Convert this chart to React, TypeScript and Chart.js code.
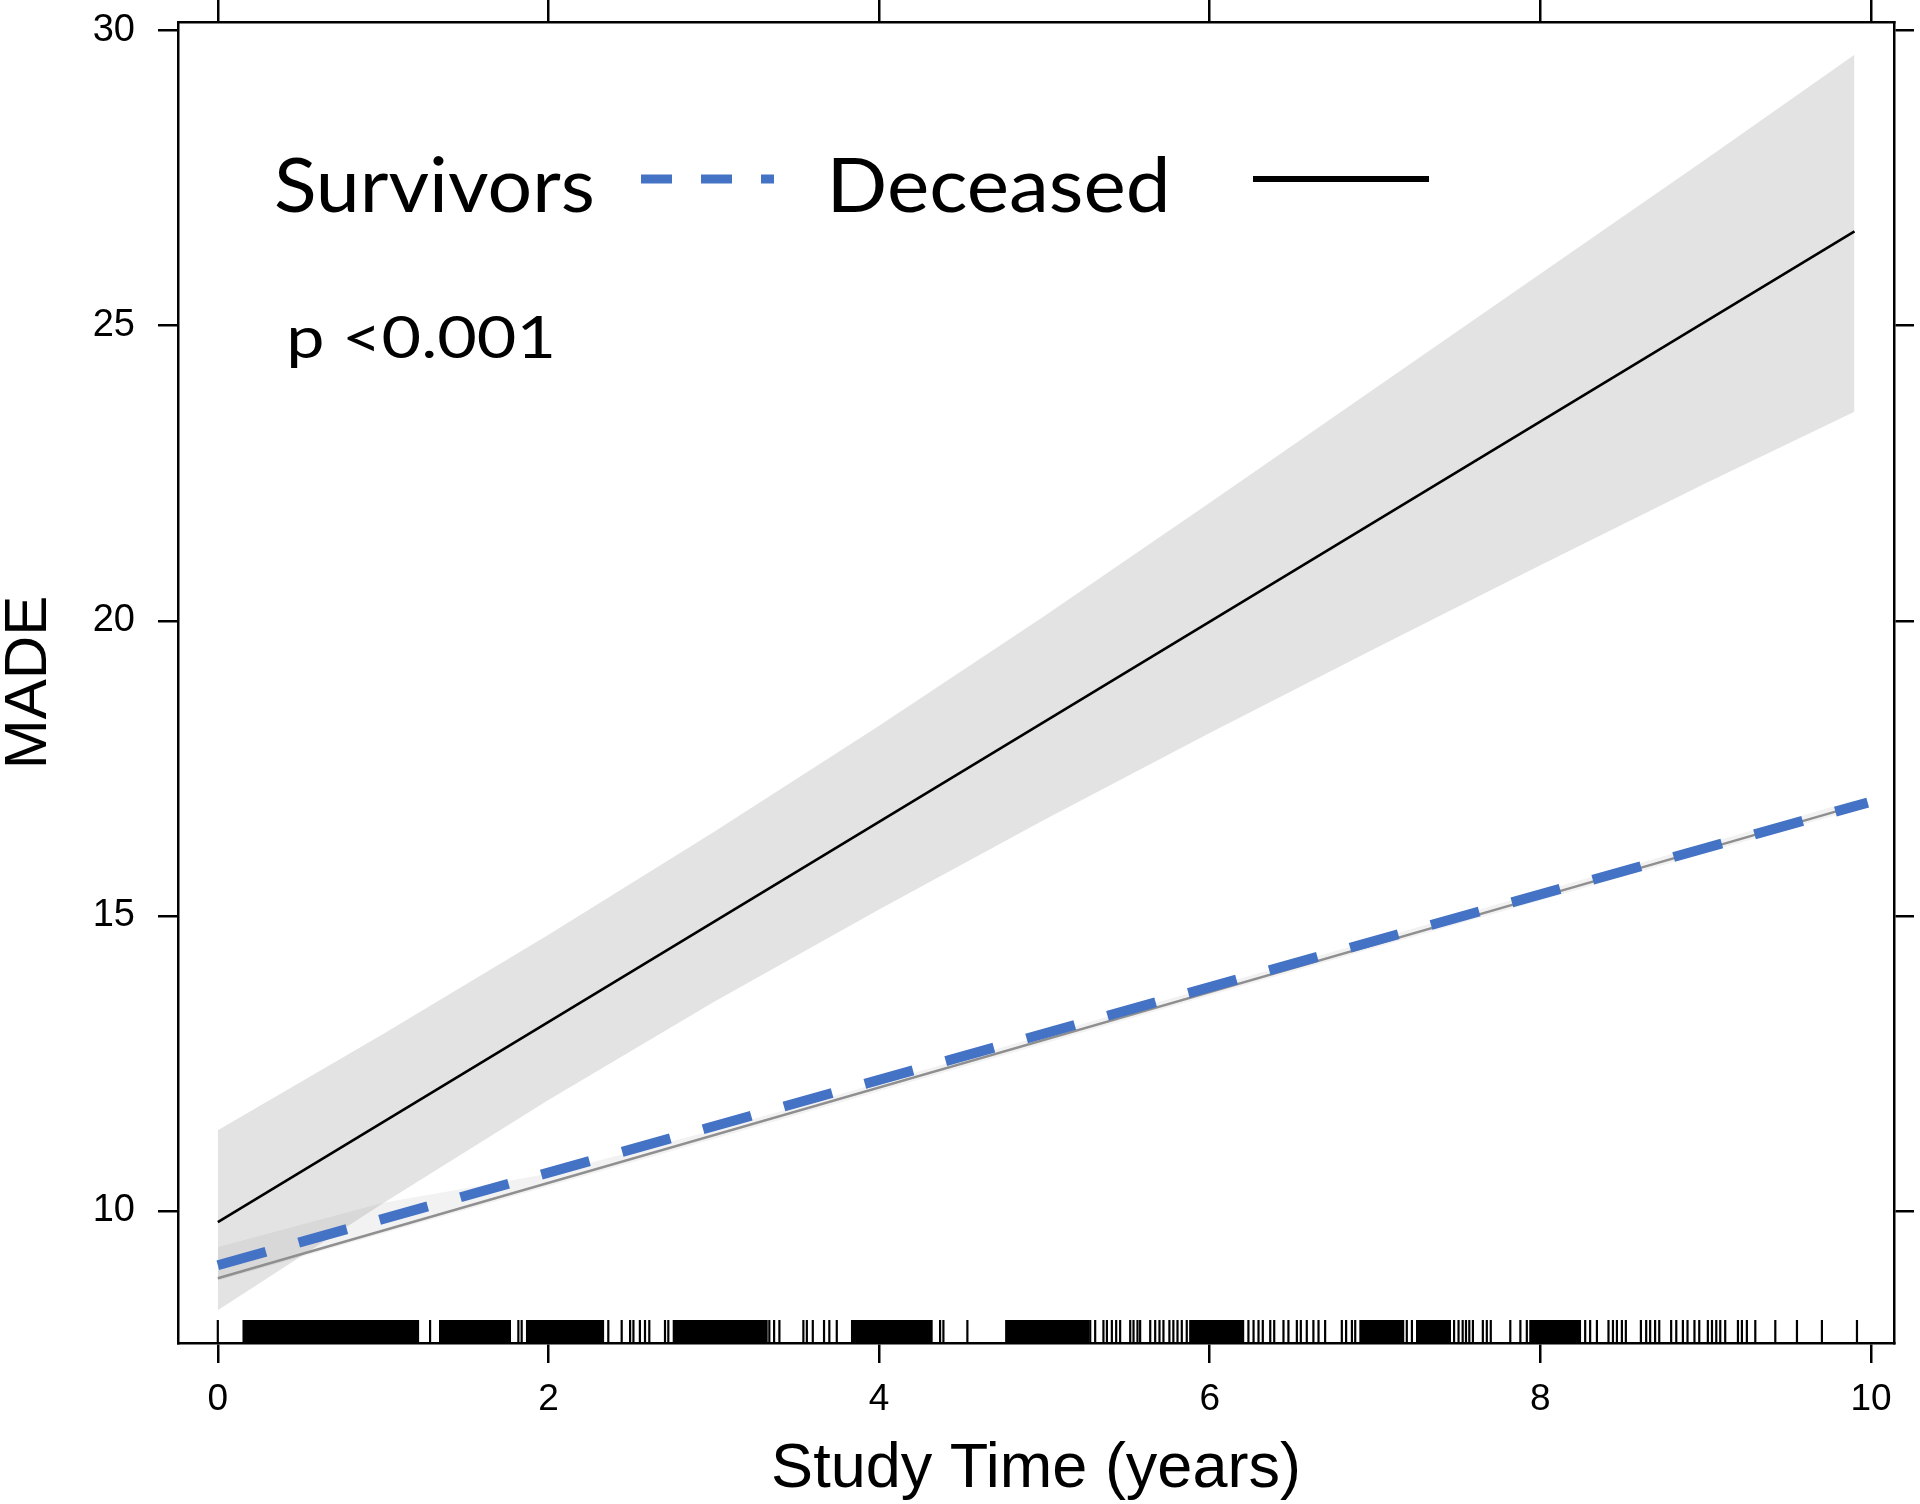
import React, { useEffect, useRef } from 'react';
import { Chart, registerables } from 'chart.js';

Chart.register(...registerables);

// ---- data ----
const xTicks = [0, 2, 4, 6, 8, 10];
const yTicks = [10, 15, 20, 25, 30];

const bandX = [0, 1, 2, 3, 4, 5, 6, 7, 8, 9, 9.9];
const deceasedUpper = [11.37, 13.0, 14.68, 16.42, 18.22, 20.08, 22.0, 23.94, 25.88, 27.82, 29.59];
const deceasedLower = [8.32, 10.13, 11.88, 13.54, 15.11, 16.63, 18.1, 19.53, 20.94, 22.33, 23.54];
const survivorsUpper = [9.39, 10.14, 10.63, 11.37, 12.17, 12.98, 13.79, 14.6, 15.41, 16.22, 16.96];
const survivorsLower = [8.82, 9.62, 10.42, 11.22, 12.03, 12.84, 13.65, 14.46, 15.26, 16.07, 16.8];

const deceasedLineX = [0, 9.9];
const deceasedLineY = [9.81, 26.6];
const survivorsGreyX = [0, 9.9];
const survivorsGreyY = [8.86, 16.86];
const survivorsBlueX = [0, 9.98];
const survivorsBlueY = [9.08, 16.92];

const rugTicks = [
  0, 1.284, 1.818, 1.838, 2.362, 2.443, 2.494, 2.514, 2.553, 2.584, 2.61, 2.705, 2.725,
  3.336, 3.365, 3.397, 3.542, 3.563, 3.599, 3.667, 3.699, 3.744, 4.369, 4.389, 4.534,
  5.277, 5.307, 5.357, 5.378, 5.408, 5.434, 5.458, 5.519, 5.539, 5.563, 5.579, 5.64, 5.67,
  5.696, 5.72, 5.756, 5.78, 5.805, 5.831, 5.861, 6.234, 6.265, 6.295, 6.321, 6.366, 6.39,
  6.446, 6.476, 6.527, 6.551, 6.587, 6.627, 6.658, 6.698, 6.799, 6.825, 6.86, 6.88, 7.192,
  7.223, 7.478, 7.505, 7.53, 7.55, 7.57, 7.592, 7.652, 7.676, 7.7, 7.818, 7.879, 7.918,
  8.271, 8.301, 8.342, 8.412, 8.439, 8.463, 8.493, 8.517, 8.608, 8.64, 8.664, 8.694, 8.719,
  8.791, 8.822, 8.862, 8.89, 8.932, 8.961, 9.013, 9.038, 9.064, 9.088, 9.118, 9.195, 9.219,
  9.249, 9.3, 9.421, 9.552, 9.703, 9.915,
];
const rugDenseStart = [0.154, 1.344, 1.869, 2.756, 3.835, 4.768, 5.881, 6.91, 7.253, 7.938];
const rugDenseEnd = [1.213, 1.768, 2.332, 3.321, 4.319, 5.266, 6.204, 7.172, 7.454, 8.241];

const legendLabels = ['Survivors', 'Deceased'];
const pValueText = 'p <0.001';
const xTitle = 'Study Time (years)';
const yTitle = 'MADE';

// ---- axis ranges ----
const X_MIN = -0.2408;
const X_MAX = 10.139;
const Y_MIN = 7.7635;
const Y_MAX = 30.1457;
const RUG_TOP = 8.153;
const RUG_MID = 7.958;

const SANS = '"Liberation Sans", Arial, Helvetica, sans-serif';
const LEG_FONT = 'Lato, "Open Sans", sans-serif';

function pts(xs: number[], ys: number[]) {
  return xs.map((x, i) => ({ x, y: ys[i] }));
}

function fitText(
  ctx: CanvasRenderingContext2D,
  text: string,
  left: number,
  right: number,
  baseline: number,
  capHeight: number,
  family: string
) {
  ctx.font = `100px ${family}`;
  const hm = ctx.measureText('H');
  const ratio = (hm.actualBoundingBoxAscent || 72) / 100;
  const size = capHeight / ratio;
  ctx.font = `${size}px ${family}`;
  const m = ctx.measureText(text);
  const w = m.actualBoundingBoxLeft + m.actualBoundingBoxRight;
  const sx = (right - left) / w;
  ctx.save();
  ctx.translate(left, baseline);
  ctx.scale(sx, 1);
  ctx.fillStyle = '#000';
  ctx.textAlign = 'left';
  ctx.textBaseline = 'alphabetic';
  ctx.fillText(text, m.actualBoundingBoxLeft, 0);
  ctx.restore();
}

const legendPlugin = {
  id: 'insideLegend',
  afterDatasetsDraw(chart: any) {
    const ctx: CanvasRenderingContext2D = chart.ctx;
    ctx.save();
    fitText(ctx, legendLabels[0], 276, 592, 212, 55, LEG_FONT);
    fitText(ctx, legendLabels[1], 833, 1165, 212, 55, LEG_FONT);
    fitText(ctx, pValueText, 291, 552, 358, 42, LEG_FONT);
    // legend samples
    ctx.lineCap = 'butt';
    ctx.strokeStyle = '#4472C4';
    ctx.lineWidth = 9;
    ctx.setLineDash([31, 29]);
    ctx.beginPath();
    ctx.moveTo(641, 179);
    ctx.lineTo(774, 179);
    ctx.stroke();
    ctx.setLineDash([]);
    ctx.strokeStyle = '#000';
    ctx.lineWidth = 6;
    ctx.beginPath();
    ctx.moveTo(1253, 179);
    ctx.lineTo(1429, 179);
    ctx.stroke();
    ctx.restore();
  },
};

const gridOpts = (len: number) => ({
  display: true,
  drawOnChartArea: false,
  drawTicks: true,
  tickLength: len,
  color: '#000',
  lineWidth: 2.5,
});
const borderOpts = { display: true, color: '#000', width: 2.5 };

function zeroPad(s: any) {
  s.paddingTop = 0;
  s.paddingBottom = 0;
  s.paddingLeft = 0;
  s.paddingRight = 0;
}

export default function App() {
  const ref = useRef<HTMLCanvasElement>(null);

  useEffect(() => {
    document.body.style.margin = '0';
    const canvas = ref.current;
    if (!canvas) return;

    const datasets: any[] = [
      {
        label: 'deceasedLower',
        data: pts(bandX, deceasedLower),
        borderColor: 'rgba(0,0,0,0)',
        borderWidth: 0,
        fill: false,
        order: 10,
      },
      {
        label: 'deceasedUpper',
        data: pts(bandX, deceasedUpper),
        borderColor: 'rgba(0,0,0,0)',
        borderWidth: 0,
        backgroundColor: 'rgba(0,0,0,0.108)',
        fill: '-1',
        order: 10,
      },
      {
        label: 'survivorsLower',
        data: pts(bandX, survivorsLower),
        borderColor: 'rgba(0,0,0,0)',
        borderWidth: 0,
        fill: false,
        order: 9,
      },
      {
        label: 'survivorsUpper',
        data: pts(bandX, survivorsUpper),
        borderColor: 'rgba(0,0,0,0)',
        borderWidth: 0,
        backgroundColor: 'rgba(0,0,0,0.05)',
        fill: '-1',
        order: 9,
      },
      {
        label: 'survivorsFit',
        data: pts(survivorsGreyX, survivorsGreyY),
        borderColor: '#8f8f8f',
        borderWidth: 2.5,
        fill: false,
        order: 5,
      },
      {
        label: legendLabels[0],
        data: pts(survivorsBlueX, survivorsBlueY),
        borderColor: '#4472C4',
        borderWidth: 10,
        borderDash: [50, 34],
        borderCapStyle: 'butt',
        fill: false,
        order: 4,
      },
      {
        label: legendLabels[1],
        data: pts(deceasedLineX, deceasedLineY),
        borderColor: '#000',
        borderWidth: 2.6,
        fill: false,
        order: 3,
      },
      {
        label: 'rug',
        data: rugTicks.map((x) => ({ x, y: RUG_MID })),
        showLine: false,
        pointStyle: 'line',
        pointRotation: 90,
        pointRadius: 11.5,
        pointBorderWidth: 2.2,
        pointBorderColor: '#000',
        pointBackgroundColor: '#000',
        order: 1,
      },
    ];
    rugDenseStart.forEach((a, i) => {
      datasets.push({
        label: 'rugDense' + i,
        data: [
          { x: a - 0.006, y: RUG_TOP },
          { x: rugDenseEnd[i] + 0.006, y: RUG_TOP },
        ],
        borderColor: 'rgba(0,0,0,0)',
        borderWidth: 0,
        backgroundColor: '#000',
        fill: 'start',
        order: 1,
      });
    });

    const chart = new Chart(canvas, {
      type: 'line',
      data: { datasets },
      plugins: [legendPlugin],
      options: {
        animation: false,
        responsive: false,
        maintainAspectRatio: false,
        devicePixelRatio: 1,
        events: [],
        layout: { padding: 0 },
        elements: {
          point: { radius: 0, hoverRadius: 0 },
          line: { tension: 0 },
        },
        plugins: {
          legend: { display: false },
          tooltip: { enabled: false },
          title: { display: false },
        },
        scales: {
          x: {
            type: 'linear',
            position: 'bottom',
            min: X_MIN,
            max: X_MAX,
            afterBuildTicks: (s: any) => {
              s.ticks = xTicks.map((v) => ({ value: v }));
            },
            afterFit: (s: any) => {
              s.height = 161;
              zeroPad(s);
            },
            grid: gridOpts(20),
            border: borderOpts,
            ticks: {
              color: '#000',
              font: { family: SANS, size: 37 },
              padding: 15,
              maxRotation: 0,
              autoSkip: false,
            },
            title: {
              display: true,
              text: xTitle,
              color: '#000',
              font: { family: SANS, size: 63, lineHeight: 1 },
              padding: { top: 0, bottom: 3 },
            },
          },
          x2: {
            type: 'linear',
            position: 'top',
            min: X_MIN,
            max: X_MAX,
            afterBuildTicks: (s: any) => {
              s.ticks = xTicks.map((v) => ({ value: v }));
            },
            afterFit: (s: any) => {
              s.height = 22;
              zeroPad(s);
            },
            grid: gridOpts(22),
            border: borderOpts,
            ticks: { display: false },
          },
          y: {
            type: 'linear',
            position: 'left',
            min: Y_MIN,
            max: Y_MAX,
            afterBuildTicks: (s: any) => {
              s.ticks = yTicks.map((v) => ({ value: v }));
            },
            afterFit: (s: any) => {
              s.width = 178;
              zeroPad(s);
            },
            grid: gridOpts(20),
            border: borderOpts,
            ticks: {
              color: '#000',
              font: { family: SANS, size: 38 },
              padding: 23,
            },
            title: {
              display: true,
              text: yTitle,
              color: '#000',
              font: { family: SANS, size: 60, lineHeight: 0.8 },
              padding: { top: 5, bottom: 0 },
            },
          },
          y2: {
            type: 'linear',
            position: 'right',
            min: Y_MIN,
            max: Y_MAX,
            afterBuildTicks: (s: any) => {
              s.ticks = yTicks.map((v) => ({ value: v }));
            },
            afterFit: (s: any) => {
              s.width = 26;
              zeroPad(s);
            },
            grid: gridOpts(20),
            border: borderOpts,
            ticks: { display: false },
          },
        },
      } as any,
    });

    return () => {
      chart.destroy();
    };
  }, []);

  return (
    <div style={{ width: 1920, height: 1504, position: 'relative', background: '#fff' }}>
      <canvas
        ref={ref}
        width={1920}
        height={1504}
        style={{ display: 'block', width: 1920, height: 1504 }}
      />
    </div>
  );
}
